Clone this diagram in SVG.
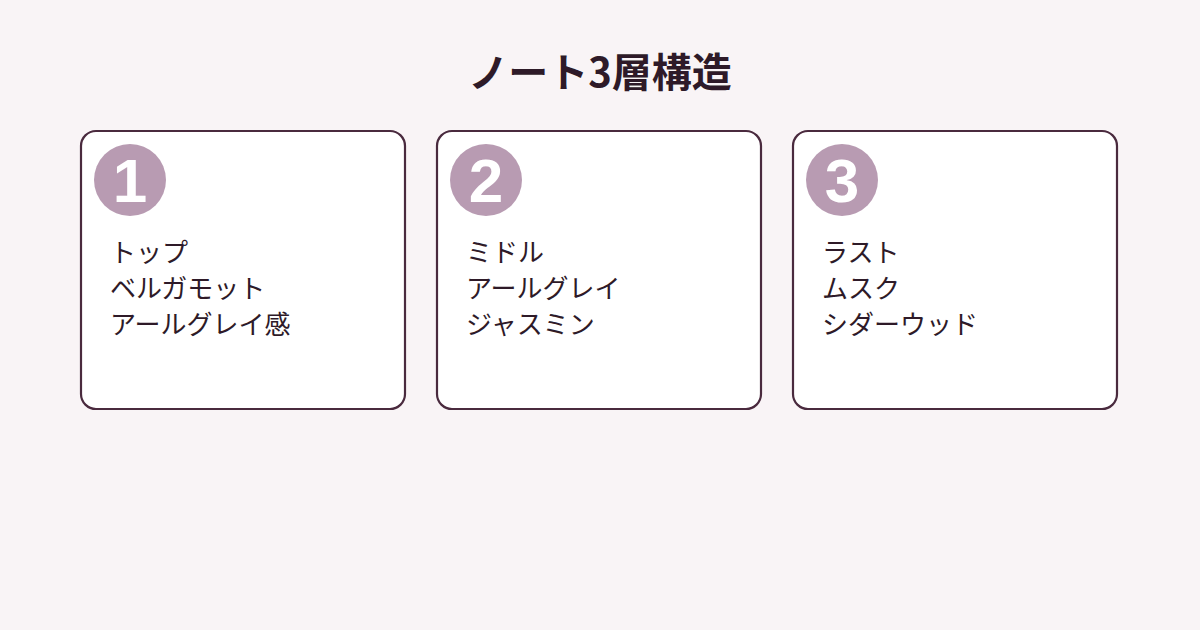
<svg xmlns="http://www.w3.org/2000/svg" width="1200" height="630" viewBox="0 0 1200 630">
<style>
.card{fill:#ffffff;stroke:#4a2a3e;stroke-width:2.2}
.badge{fill:#b89bb2}
.num{font-family:"Liberation Sans","Noto Sans CJK JP",sans-serif;font-weight:700;font-size:62px;fill:#ffffff;text-anchor:middle}
.item{font-family:"Noto Sans CJK JP",sans-serif;font-weight:400;font-size:26px;fill:#2e1a28}
.title{font-family:"Noto Sans CJK JP",sans-serif;font-weight:700;font-size:40px;fill:#2e1a28;text-anchor:middle}
</style>
<rect width="1200" height="630" fill="#f9f4f6"/>
<text class="title" x="600" y="87">ノート3層構造</text>
<g id="connectors"></g>
<g id="node1">
<rect class="card" x="81" y="131" width="324" height="278" rx="15"/>
<circle class="badge" cx="130" cy="180" r="36"/>
<text class="num" x="130" y="202">1</text>
<text class="item" x="110" y="262">トップ</text>
<text class="item" x="110" y="298">ベルガモット</text>
<text class="item" x="110" y="334">アールグレイ感</text>
</g>
<g id="node2">
<rect class="card" x="437" y="131" width="324" height="278" rx="15"/>
<circle class="badge" cx="486" cy="180" r="36"/>
<text class="num" x="486" y="202">2</text>
<text class="item" x="466" y="262">ミドル</text>
<text class="item" x="466" y="298">アールグレイ</text>
<text class="item" x="466" y="334">ジャスミン</text>
</g>
<g id="node3">
<rect class="card" x="793" y="131" width="324" height="278" rx="15"/>
<circle class="badge" cx="842" cy="180" r="36"/>
<text class="num" x="842" y="202">3</text>
<text class="item" x="822" y="262">ラスト</text>
<text class="item" x="822" y="298">ムスク</text>
<text class="item" x="822" y="334">シダーウッド</text>
</g>
</svg>
